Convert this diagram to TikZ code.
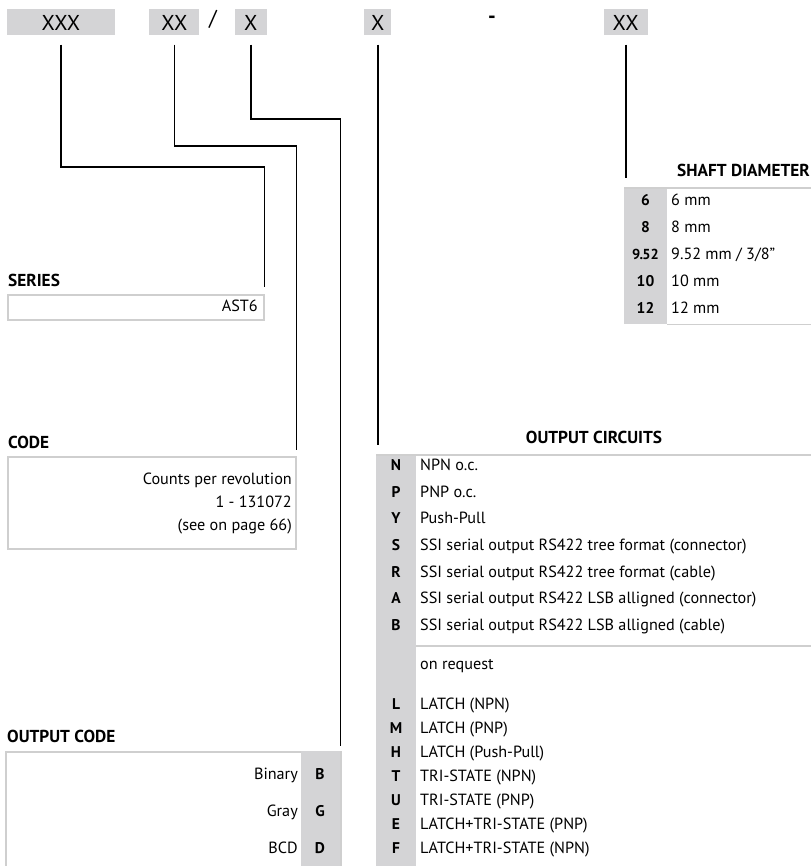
\documentclass[tikz,border=0pt]{standalone}
\usepackage{fontspec}
\setmainfont{PT Sans}
\usepackage{tikz}
\usetikzlibrary{positioning}

\definecolor{keygray}{HTML}{D4D4D6}
\definecolor{framegray}{HTML}{CFCFCF}

\begin{document}
\begin{tikzpicture}[
  x=1pt, y=-1pt,
  codebox/.style={fill=keygray,minimum height=26pt,inner sep=0pt,font=\fontsize{21.5}{21.5}\selectfont},
  heading/.style={font=\fontsize{17.3}{17.3}\selectfont\bfseries,inner sep=0pt,anchor=base west},
  txt/.style={font=\fontsize{16.2}{16.2}\selectfont,inner sep=0pt},
  key/.style={font=\fontsize{15.5}{15.5}\selectfont\bfseries,inner sep=0pt,anchor=base},
  frame/.style={draw=framegray,line width=1.5pt,inner sep=0pt,anchor=north west},
  keycol/.style={fill=keygray,inner sep=0pt,anchor=north west},
  wire/.style={draw=black,line width=1.8pt}
]
\useasboundingbox (0,0) rectangle (810,866);

% code boxes on top
\node[codebox, minimum width=108pt] (xxx) at (61,22.5) {XXX};
\node[codebox, minimum width=50pt, right=34pt of xxx] (xx) {XX};
\node[codebox, minimum width=32pt, right=35pt of xx] (xthree) {X};
\node[codebox, minimum width=27pt, right=97pt of xthree] (xfour) {X};
\node[codebox, minimum width=44pt, right=212pt of xfour] (xxfive) {XX};
\node[inner sep=0pt, font=\fontsize{21.5}{21.5}\selectfont] (slash) at (213,19) {/};
\node[inner sep=0pt, font=\fontsize{21.5}{21.5}\selectfont\bfseries] (dash) at (492,20) {-};

% series
\node[heading] (serieslbl) at (8,287) {SERIES};
\node[frame, minimum width=256pt, minimum height=25pt] (series) at (7,294) {};
\node[txt, anchor=base east] (ast) at (258,311) {AST6};

% code
\node[heading] (codelbl) at (8,448) {CODE};
\node[frame, minimum width=288pt, minimum height=92pt] (code) at (7,456) {};
\node[txt, anchor=base east] (cpr) at (292,484) {Counts per revolution};
\node[txt, anchor=base east] (range) at (292,507) {1 - 131072};
\node[txt, anchor=base east] (page) at (292,530) {(see on page 66)};

% output code
\node[heading] (outcodelbl) at (7,742) {OUTPUT CODE};
\node[frame, minimum width=335pt, minimum height=130pt] (outcode) at (5,751) {};
\node[keycol, minimum width=39pt, minimum height=130pt] (outkey) at (301,751) {};
\node[txt, anchor=base east] (binary) at (298,779) {Binary};
\node[key] (kb) at (320,779) {B};
\node[txt, anchor=base east] (gray) at (298,816) {Gray};
\node[key] (kg) at (320,816) {G};
\node[txt, anchor=base east] (bcd) at (298,853) {BCD};
\node[key] (kd) at (320,853) {D};

% shaft diameter
\node[heading] (shaftlbl) at (677,177) {SHAFT DIAMETER};
\node[keycol, minimum width=43pt, minimum height=136pt] (shaftkey) at (624,188) {};
\draw[framegray, line width=1.5pt] (shaftkey.north west) -- (shaftkey.north west -| 812,0);
\draw[framegray, line width=1.5pt] (shaftkey.south east) -- (shaftkey.south east -| 812,0);
\node[key] (s6) at (645.5,206) {6};
\node[txt, anchor=base west] (t6) at (671,206) {6 mm};
\node[key] (s8) at (645.5,232.5) {8};
\node[txt, anchor=base west] (t8) at (671,232.5) {8 mm};
\node[key, font=\fontsize{14.5}{14.5}\selectfont\bfseries] (s952) at (645.5,259.5) {9\kern-0.8pt.\kern-0.8pt52};
\node[txt, anchor=base west] (t952) at (671,259.5) {9.52 mm / 3/8"};
\node[key] (s10) at (645.5,286) {10};
\node[txt, anchor=base west] (t10) at (671,286) {10 mm};
\node[key] (s12) at (645.5,313) {12};
\node[txt, anchor=base west] (t12) at (671,313) {12 mm};

% output circuits
\node[heading, anchor=base] (circlbl) at (594,443) {OUTPUT CIRCUITS};
\node[keycol, minimum width=40pt, minimum height=415pt] (circkey) at (376,455) {};
\draw[framegray, line width=1.5pt] (circkey.north west) -- (circkey.north west -| 812,0);
\draw[framegray, line width=1.5pt] (416,646) -- (812,646);
\node[key] (cn) at (396,470.5) {N};
\node[txt, anchor=base west] (tn) at (420,470.5) {NPN o.c.};
\node[key] (cp) at (396,497) {P};
\node[txt, anchor=base west] (tp) at (420,497) {PNP o.c.};
\node[key] (cy) at (396,523.5) {Y};
\node[txt, anchor=base west] (ty) at (420,523.5) {Push-Pull};
\node[key] (cs) at (396,550) {S};
\node[txt, anchor=base west] (ts) at (420,550) {SSI serial output RS422 tree format (connector)};
\node[key] (cr) at (396,577) {R};
\node[txt, anchor=base west] (tr) at (420,577) {SSI serial output RS422 tree format (cable)};
\node[key] (ca) at (396,603.5) {A};
\node[txt, anchor=base west] (ta) at (420,603.5) {SSI serial output RS422 LSB alligned (connector)};
\node[key] (cb) at (396,630) {B};
\node[txt, anchor=base west] (tb) at (420,630) {SSI serial output RS422 LSB alligned (cable)};
\node[txt, anchor=base west] (req) at (420,669.5) {on request};
\node[key] (cl) at (396,709.5) {L};
\node[txt, anchor=base west] (tl) at (420,709.5) {LATCH (NPN)};
\node[key] (cm) at (396,733.5) {M};
\node[txt, anchor=base west] (tm) at (420,733.5) {LATCH (PNP)};
\node[key] (ch) at (396,757.5) {H};
\node[txt, anchor=base west] (th) at (420,757.5) {LATCH (Push-Pull)};
\node[key] (ct) at (396,781.5) {T};
\node[txt, anchor=base west] (tt) at (420,781.5) {TRI-STATE (NPN)};
\node[key] (cu) at (396,805.5) {U};
\node[txt, anchor=base west] (tu) at (420,805.5) {TRI-STATE (PNP)};
\node[key] (ce) at (396,829.5) {E};
\node[txt, anchor=base west] (te) at (420,829.5) {LATCH+TRI-STATE (PNP)};
\node[key] (cf) at (396,853.5) {F};
\node[txt, anchor=base west] (tf) at (420,853.5) {LATCH+TRI-STATE (NPN)};

% leader lines
\coordinate (seriesin) at ([yshift=7pt]series.north east);
\coordinate (codein) at ([yshift=6pt]code.north east);
\coordinate (outcodein) at ([xshift=-1pt,yshift=5pt]outcode.north east);
\coordinate (circin) at ([yshift=10pt]circkey.north west);
\coordinate (shaftin) at ([yshift=10pt]shaftkey.north west);

\draw[wire] ([yshift=-9pt]xxx.south) -- ++(0,122) -| (seriesin);
\draw[wire] ([yshift=-9pt]xx.south) -- ++(0,101) -| (codein);
\draw[wire] ([yshift=-9pt]xthree.south) -- ++(0,74) -| (outcodein);
\draw[wire] ([yshift=-9pt]xfour.south) -- (xfour.south |- circin);
\draw[wire] ([yshift=-9pt]xxfive.south) -- (xxfive.south |- shaftin);

\end{tikzpicture}
\end{document}
